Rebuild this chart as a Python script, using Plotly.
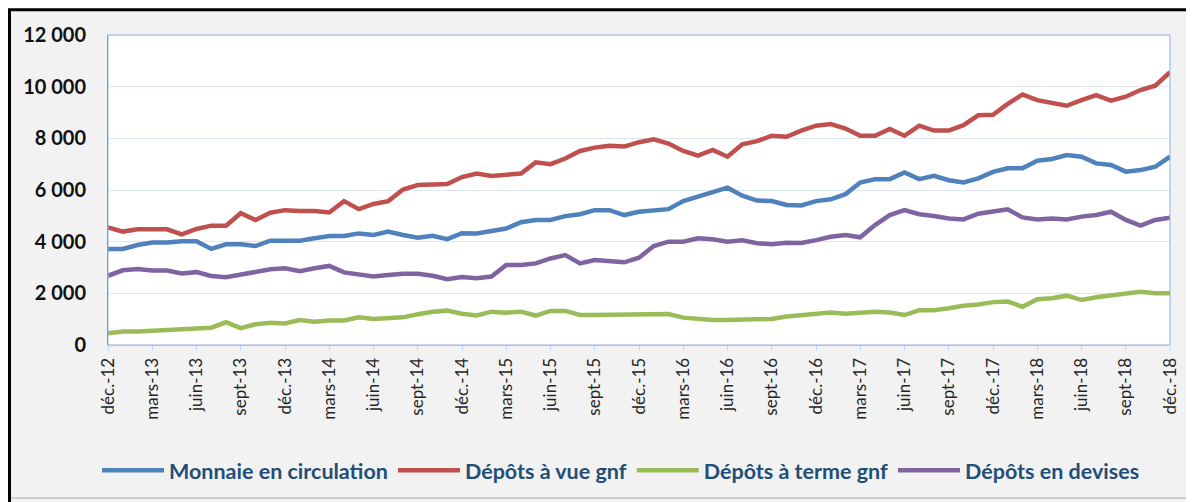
import plotly.graph_objects as go

# ---- data (monthly, déc.-12 .. déc.-18) ----
month_names = ["déc.", "janv.", "févr.", "mars", "avr.", "mai", "juin",
               "juil.", "août", "sept", "oct.", "nov."]
start_year = 12
n_points = 73

monnaie = [3720, 3720, 3870, 3970, 3970, 4020, 4020, 3720, 3900, 3900, 3830, 4040,
           4040, 4040, 4130, 4220, 4220, 4320, 4260, 4390, 4260, 4150, 4230, 4100,
           4330, 4320, 4410, 4510, 4750, 4840, 4840, 4990, 5060, 5220, 5220, 5030,
           5160, 5190, 5260, 5570, 5740, 5890, 6090, 5780, 5590, 5570, 5420, 5400,
           5570, 5640, 5840, 6290, 6420, 6420, 6680, 6420, 6550, 6380, 6290, 6450,
           6700, 6840, 6840, 7130, 7200, 7350, 7290, 7030, 6970, 6710, 6770, 6900,
           7290]
depots_vue = [4550, 4390, 4480, 4480, 4480, 4280, 4490, 4620, 4620, 5100, 4840, 5120,
              5220, 5190, 5190, 5130, 5570, 5260, 5460, 5570, 6020, 6190, 6220, 6230,
              6500, 6640, 6540, 6580, 6640, 7070, 7000, 7220, 7510, 7640, 7710, 7680,
              7850, 7960, 7800, 7510, 7330, 7550, 7290, 7770, 7890, 8100, 8060, 8300,
              8490, 8550, 8380, 8100, 8100, 8360, 8100, 8490, 8300, 8300, 8510, 8890,
              8910, 9330, 9700, 9480, 9390, 9260, 9480, 9670, 9460, 9610, 9870, 10040,
              10560]
depots_terme = [450, 520, 520, 550, 570, 580, 620, 670, 880, 650, 800, 860,
                830, 970, 900, 950, 950, 1070, 1010, 1060, 1070, 1190, 1290, 1330,
                1210, 1140, 1290, 1250, 1290, 1140, 1320, 1320, 1160, 1160, 1160, 1200,
                1200, 1200, 1200, 1060, 1010, 970, 970, 970, 1010, 1010, 1100, 1160,
                1210, 1260, 1210, 1250, 1290, 1260, 1160, 1350, 1350, 1420, 1520, 1570,
                1660, 1680, 1480, 1770, 1810, 1910, 1740, 1850, 1910, 1960, 2060, 2000,
                2000]
depots_devises = [2680, 2890, 2940, 2880, 2880, 2770, 2820, 2670, 2620, 2710, 2840, 2930,
                  2970, 2860, 2970, 3060, 2810, 2710, 2650, 2710, 2760, 2760, 2680, 2550,
                  2630, 2580, 2650, 3100, 3100, 3160, 3350, 3480, 3160, 3290, 3250, 3200,
                  3380, 3830, 4000, 4000, 4130, 4090, 4000, 4050, 3940, 3900, 3960, 3950,
                  4060, 4190, 4260, 4170, 4640, 5030, 5220, 5060, 4990, 4900, 4860, 5080,
                  5170, 5250, 4940, 4860, 4900, 4860, 4970, 5030, 5160, 4840, 4620, 4840,
                  4930]

series_names = ["Monnaie en circulation", "Dépôts à vue gnf",
                "Dépôts à terme gnf", "Dépôts en devises"]
series_colors = ["#4f81bd", "#c0504d", "#9bbb59", "#8064a2"]
y_ticks = [0, 2000, 4000, 6000, 8000, 10000, 12000]

# month labels
labels = []
for i in range(n_points):
    m = i % 12
    yr = start_year + (i + 11) // 12
    labels.append(f"{month_names[m]}-{yr}")
x_idx = list(range(n_points))
tick_idx = x_idx[::3]
tick_txt = [labels[i] for i in tick_idx]

fig = go.Figure()
for name, vals, col in zip(series_names,
                           [monnaie, depots_vue, depots_terme, depots_devises],
                           series_colors):
    fig.add_trace(go.Scatter(x=x_idx, y=vals, name=name, mode="lines",
                             line=dict(color=col, width=4.5)))

# figure is placed at (8, 8) in the page by the body margin
W, H = 1186, 494
L, R, T, B = 100, 24, 27, 155
pw, ph = W - L - R, H - T - B

def px(x):
    return (x - L) / pw

def py(y):
    return (H - B - y) / ph

shapes = [
    # black frame
    dict(type="rect", xref="paper", yref="paper", x0=px(1.5), x1=px(W + 20),
         y0=py(H + 20), y1=py(1.5), line=dict(color="black", width=3), layer="above"),
    dict(type="line", xref="paper", yref="paper", x0=px(3), x1=px(W + 20),
         y0=py(H - 1), y1=py(H - 1), line=dict(color="#bfbfbf", width=1.5), layer="above"),
    # plot-area border
    dict(type="rect", xref="paper", yref="paper", x0=0, x1=1, y0=0, y1=1,
         line=dict(color="#8eb1dc", width=1), layer="above"),
]

fig.update_layout(
    width=W, height=H,
    margin=dict(l=L, r=R, t=T, b=B),
    paper_bgcolor="#f2f2f2", plot_bgcolor="white",
    separators=", ",
    showlegend=True,
    legend=dict(orientation="h", x=px(613), xanchor="center", y=py(465), yanchor="middle",
                font=dict(family="Lato", size=21.5, color="#1f4e79", weight="bold"),
                itemwidth=62, tracegroupgap=0, bgcolor="rgba(0,0,0,0)"),
    shapes=shapes,
)
fig.update_xaxes(range=[0, n_points - 1], tickmode="array", tickvals=tick_idx,
                 ticktext=tick_txt, tickangle=-90, ticks="outside", ticklen=5,
                 tickcolor="#c6d6ec", showgrid=False, showline=True,
                 linecolor="#c6d6ec", linewidth=1, zeroline=False,
                 tickfont=dict(family="Lato", size=17, color="#262626"))
fig.update_yaxes(range=[0, 12000], tickmode="array", tickvals=y_ticks,
                 tickformat=",d", showgrid=True, gridcolor="#dce6f2", gridwidth=1,
                 zeroline=False, showline=True, linecolor="#5b8ccf", linewidth=1,
                 ticks="", ticklabelstandoff=17,
                 tickfont=dict(family="Lato", size=20, color="#111111", weight="bold"))

fig.write_html("out.html")
